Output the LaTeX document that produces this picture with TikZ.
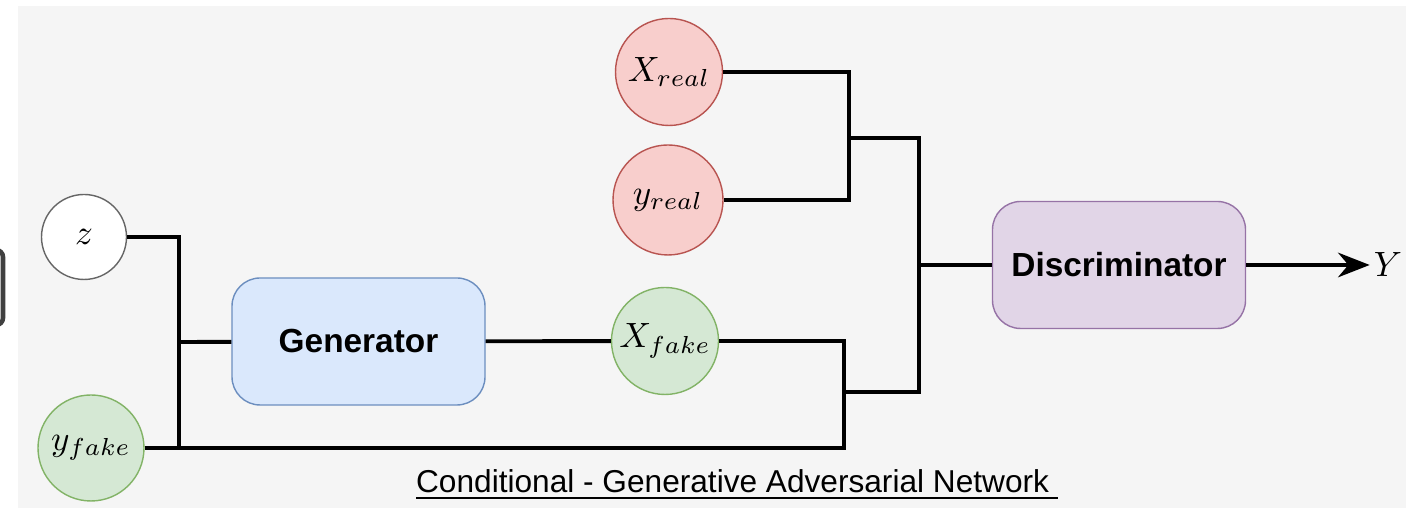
\documentclass[tikz,border=0pt]{standalone}
\usepackage{fontspec}
\setsansfont{Liberation Sans}
\usepackage{tikz}
\usetikzlibrary{arrows.meta}

\definecolor{bggray}{HTML}{F5F5F5}
\definecolor{redfill}{HTML}{F8CECC}
\definecolor{redline}{HTML}{B85450}
\definecolor{greenfill}{HTML}{D5E8D4}
\definecolor{greenline}{HTML}{82B366}
\definecolor{bluefill}{HTML}{DAE8FC}
\definecolor{blueline}{HTML}{6C8EBF}
\definecolor{purplefill}{HTML}{E1D5E7}
\definecolor{purpleline}{HTML}{9673A6}

\begin{document}
\begin{tikzpicture}[every node/.style={font=\fontsize{10}{12}\selectfont},
    var/.style={draw,circle,inner sep=0pt},
    realvar/.style={var,fill=redfill,draw=redline,minimum size=1.07cm},
    fakevar/.style={var,fill=greenfill,draw=greenline,minimum size=1.07cm},
    net/.style={draw,rounded corners=8pt,minimum width=2.53cm,minimum height=1.27cm,
        font=\sffamily\bfseries\fontsize{9.5}{11}\selectfont},
    wire/.style={line width=1.1pt}]
            \useasboundingbox (0,0) rectangle (14.06,5.15);
            \fill[bggray] (0.18,0.07) rectangle (14.06,5.09);
            \draw[line width=1.3pt,black!75,rounded corners=2pt] (-0.3,2.65) rectangle (0.03,1.90);

            \node[var,draw=black!60,fill=white,minimum size=0.85cm] (z) at (0.84,2.78) {$z$};
            \node[fakevar,minimum size=1.06cm] (yfake) at (0.91,0.67) {$y_{fake}$};
            \node[net,fill=bluefill,draw=blueline] (gen) at (3.585,1.735) {Generator};
            \node[fakevar] (xfake) at (6.65,1.74) {$X_{fake}$};
            \node[realvar] (xreal) at (6.69,4.43) {$X_{real}$};
            \node[realvar,minimum size=1.1cm] (yreal) at (6.68,3.15) {$y_{real}$};
            \node[net,fill=purplefill,draw=purpleline] (disc) at (11.19,2.50) {Discriminator};
            \node[inner sep=1pt] (Y) at (13.88,2.50) {$Y$};
            \node[font=\sffamily\fontsize{9}{11}\selectfont] (title) at (7.37,0.30)
                {\underline{Conditional - Generative Adversarial Network\ }};

            \coordinate (gj) at (1.79,1.73);
            \coordinate (fj) at (8.44,1.23);
            \coordinate (rj) at (8.49,3.77);
            \coordinate (dj) at (9.19,2.50);

            \foreach \a/\b in {z/gj,yfake/gj,yfake/fj,xfake/fj,xreal/rj,yreal/rj,rj/dj,fj/dj}{
                \draw[wire] (\a) -| (\b);
            }
            \draw[wire] (gj) -- (gen);
            \draw[wire] (gen) -- (xfake);
            \draw[wire] (dj) -- (disc);
            \draw[wire,-{Stealth[length=9pt,width=7pt]}] (disc) -- (Y);
        \end{tikzpicture}
\end{document}
